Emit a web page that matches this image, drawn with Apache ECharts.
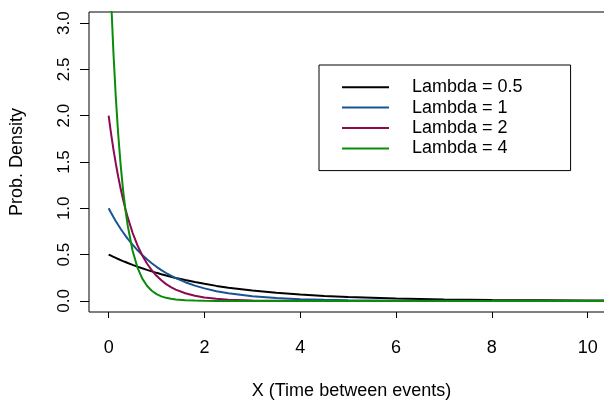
<!DOCTYPE html>
<html>
<head>
<meta charset="utf-8">
<script src="https://cdn.jsdelivr.net/npm/echarts@6/dist/echarts.min.js"></script>
<style>
  html, body { margin: 0; padding: 0; background: #fff; }
  #pic { width: 604px; height: 401px; }
</style>
</head>
<body>
<div id="pic"></div>
<script>
  // x positions the curves were read at
  var xs = [0, 0.05, 0.1, 0.15, 0.2, 0.25, 0.3, 0.35, 0.4, 0.5, 0.6, 0.7, 0.8, 0.9, 1,
            1.1, 1.2, 1.3, 1.4, 1.6, 1.8, 2, 2.25, 2.5, 3, 3.5, 4, 4.5, 5, 6, 7, 8, 9, 10, 10.6];
  var lam05 = [0.5, 0.488, 0.476, 0.464, 0.452, 0.441, 0.430, 0.420, 0.409, 0.389, 0.370, 0.352, 0.335, 0.319, 0.303,
               0.288, 0.274, 0.261, 0.248, 0.225, 0.203, 0.184, 0.162, 0.143, 0.112, 0.087, 0.068, 0.053, 0.041, 0.025, 0.015, 0.009, 0.006, 0.003, 0.003];
  var lam1 = [1, 0.951, 0.905, 0.861, 0.819, 0.779, 0.741, 0.705, 0.670, 0.607, 0.549, 0.497, 0.449, 0.407, 0.368,
              0.333, 0.301, 0.273, 0.247, 0.202, 0.165, 0.135, 0.105, 0.082, 0.050, 0.030, 0.018, 0.011, 0.007, 0.002, 0.001, 0, 0, 0, 0];
  var lam2 = [2, 1.810, 1.637, 1.482, 1.341, 1.213, 1.098, 0.993, 0.899, 0.736, 0.602, 0.493, 0.404, 0.331, 0.271,
              0.222, 0.181, 0.149, 0.122, 0.082, 0.055, 0.037, 0.022, 0.013, 0.005, 0.002, 0.001, 0, 0, 0, 0, 0, 0, 0, 0];
  var lam4 = [4, 3.275, 2.681, 2.195, 1.797, 1.472, 1.205, 0.986, 0.808, 0.541, 0.363, 0.243, 0.163, 0.109, 0.073,
              0.049, 0.033, 0.022, 0.015, 0.007, 0.003, 0.001, 0, 0, 0, 0, 0, 0, 0, 0, 0, 0, 0, 0, 0];
  var names = ['Lambda = 0.5', 'Lambda = 1', 'Lambda = 2', 'Lambda = 4'];
  var colors = ['#000000', '#185494', '#8B0A50', '#0A8C0A'];
  var xTicks = [0, 2, 4, 6, 8, 10];
  var yTicks = [0, 0.5, 1, 1.5, 2, 2.5, 3];

  function pairs(ys) {
    var out = [];
    for (var i = 0; i < xs.length; i++) out.push([xs[i], ys[i]]);
    return out;
  }

  var font = 'Liberation Sans, Arial, sans-serif';
  var myChart = echarts.init(document.getElementById('pic'));
  var option = {
    animation: false,
    color: colors,
    grid: {
      left: 89, right: -10, top: 12, bottom: 89,
      outerBoundsMode: 'none',
      containLabel: false,
      show: true, borderColor: '#000', borderWidth: 1
    },
    legend: {
      orient: 'vertical',
      left: 319, top: 65,
      padding: [12, 48, 12, 23],
      borderColor: '#000', borderWidth: 1,
      itemGap: 0,
      itemWidth: 47, itemHeight: 2,
      icon: 'rect',
      data: names,
      textStyle: { fontFamily: font, fontSize: 18, color: '#000', lineHeight: 20.4, padding: [0, 0, 0, 18] }
    },
    xAxis: {
      type: 'value',
      min: -0.41, max: 10.55,
      name: 'X (Time between events)',
      nameLocation: 'middle',
      nameGap: 70,
      nameTextStyle: { fontFamily: font, fontSize: 18, color: '#000' },
      axisLine: { show: false, onZero: false },
      splitLine: { show: false },
      axisTick: { show: true, length: 6, customValues: xTicks, lineStyle: { color: '#000', width: 1 } },
      axisLabel: { customValues: xTicks, margin: 27, fontFamily: font, fontSize: 18, color: '#000' }
    },
    yAxis: {
      type: 'value',
      min: -0.12, max: 3.12,
      name: 'Prob. Density',
      nameLocation: 'middle',
      nameGap: 63,
      nameTextStyle: { fontFamily: font, fontSize: 18, color: '#000' },
      axisLine: { show: false, onZero: false },
      splitLine: { show: false },
      axisTick: { show: true, length: 9, customValues: yTicks, lineStyle: { color: '#000' } },
      axisLabel: {
        customValues: yTicks, rotate: 90, margin: 16,
        fontFamily: font, fontSize: 17, color: '#000',
        formatter: function(v) { return v.toFixed(1); }
      }
    },
    series: [
      { name: names[0], type: 'line', symbol: 'none', lineStyle: { width: 2 }, data: pairs(lam05) },
      { name: names[1], type: 'line', symbol: 'none', lineStyle: { width: 2 }, data: pairs(lam1) },
      { name: names[2], type: 'line', symbol: 'none', lineStyle: { width: 2 }, data: pairs(lam2) },
      { name: names[3], type: 'line', symbol: 'none', lineStyle: { width: 2 }, data: pairs(lam4) }
    ]
  };
  myChart.setOption(option);
</script>
</body>
</html>
